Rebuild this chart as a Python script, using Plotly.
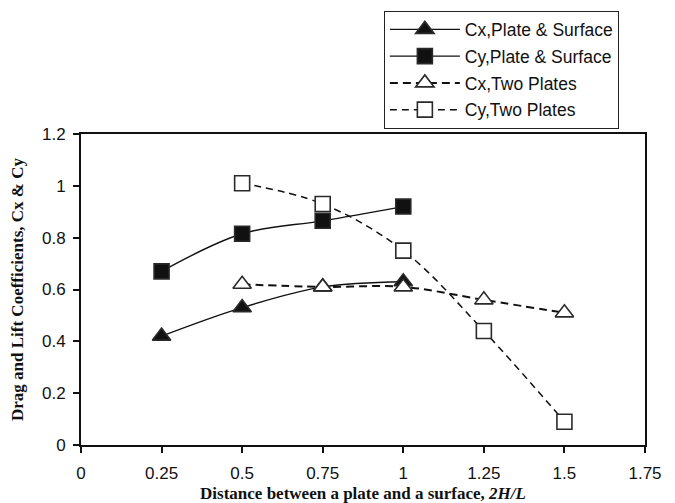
import plotly.graph_objects as go

# Distance 2H/L and force coefficients
x_ps = [0.25, 0.5, 0.75, 1.0]
cx_ps = [0.42, 0.53, 0.61, 0.63]
cy_ps = [0.67, 0.815, 0.865, 0.92]

x_tp = [0.5, 0.75, 1.0, 1.25, 1.5]
cx_tp = [0.62, 0.61, 0.61, 0.56, 0.51]
cy_tp = [1.01, 0.93, 0.75, 0.44, 0.09]

x_ticks = [0, 0.25, 0.5, 0.75, 1, 1.25, 1.5, 1.75]
x_tick_text = ["0", "0.25", "0.5", "0.75", "1", "1.25", "1.5", "1.75"]
y_ticks = [0, 0.2, 0.4, 0.6, 0.8, 1.0, 1.2]
y_tick_text = ["0", "0.2", "0.4", "0.6", "0.8", "1", "1.2"]

INK = "#111111"
EDGE = "#2a2a2a"
SERIF = "Liberation Serif, Times New Roman, serif"

fig = go.Figure()

series = [
    ("Cx,Plate & Surface", x_ps, cx_ps, "triangle-up", INK, "solid", 1.4),
    ("Cy,Plate & Surface", x_ps, cy_ps, "square", INK, "solid", 1.4),
    ("Cx,Two Plates", x_tp, cx_tp, "triangle-up", "white", "8px,5px", 2.0),
    ("Cy,Two Plates", x_tp, cy_tp, "square", "white", "7px,5px", 1.5),
]

for i, (name, xs, ys, sym, fill, dash, lw) in enumerate(series):
    fig.add_trace(go.Scatter(
        x=xs, y=ys, name=name, mode="lines+markers",
        legendgroup=f"g{i}",
        line=dict(color=INK, width=lw, dash=dash, shape="spline", smoothing=1.0),
        marker=dict(symbol=sym, size=16 if "triangle" in sym else 15,
                    color=fill, line=dict(color=EDGE, width=1.6)),
    ))

fig.update_layout(
    width=675, height=503,
    margin=dict(l=81, r=30, t=134, b=58, autoexpand=False),
    paper_bgcolor="white", plot_bgcolor="white",
    font=dict(family="Liberation Sans, Arial, sans-serif", size=17, color="#111"),
    showlegend=True,
    legend=dict(
        x=0.537, y=1.397, xanchor="left", yanchor="top",
        bordercolor="#222", borderwidth=1, bgcolor="white",
        font=dict(size=17.5), tracegroupgap=1, itemwidth=70,
    ),
    xaxis=dict(
        range=[0, 1.75], tickvals=x_ticks, ticktext=x_tick_text,
        automargin=False,
        showgrid=False, zeroline=False,
        showline=True, linecolor="#111", linewidth=2, mirror=True,
        ticks="outside", ticklen=6, tickwidth=1.5, tickcolor="#111",
        ticklabelstandoff=6,
        tickfont=dict(size=17),
        title=dict(
            text="<b>Distance between a plate and a surface, <i>2H/L</i></b>",
            font=dict(family=SERIF, size=17),
            standoff=8,
        ),
    ),
    yaxis=dict(
        range=[0, 1.2], tickvals=y_ticks, ticktext=y_tick_text,
        automargin=False,
        showgrid=False, zeroline=False,
        showline=True, linecolor="#111", linewidth=2, mirror=True,
        ticks="outside", ticklen=6, tickwidth=1.5, tickcolor="#111",
        ticklabelstandoff=4,
        tickfont=dict(size=17),
        title=dict(
            text="<b>Drag and Lift Coefficients, Cx & Cy</b>",
            font=dict(family=SERIF, size=17),
            standoff=14,
        ),
    ),
)

fig.write_html("out.html")
